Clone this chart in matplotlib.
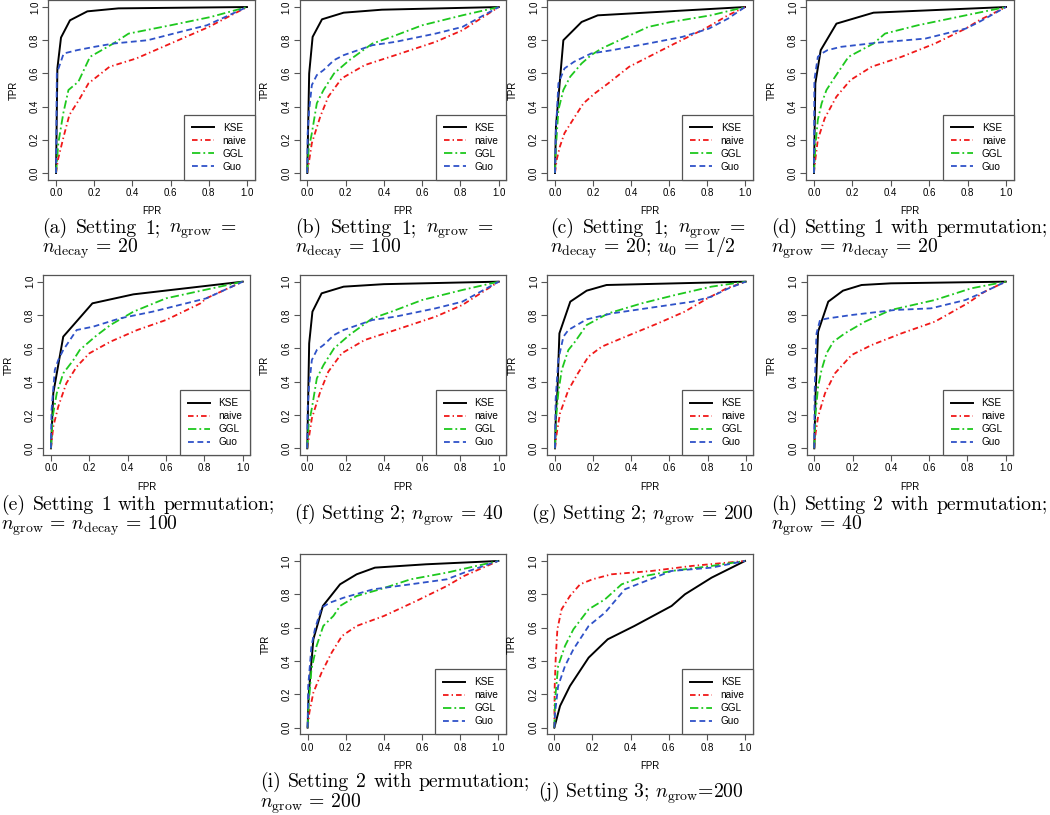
import numpy as np
import matplotlib
matplotlib.use("Agg")
import matplotlib.pyplot as plt

plt.rcParams['mathtext.fontset'] = 'cm'
plt.rcParams['lines.scale_dashes'] = False

# ROC curves: (FPR list, TPR list) per method and panel
a_kse = ([0, 0.007, 0.026, 0.073, 0.164, 0.327, 1], [0, 0.63, 0.816, 0.92, 0.974, 0.992, 1])
a_naive = ([0, 0.01, 0.04, 0.07, 0.12, 0.17, 0.28, 0.42, 0.6, 0.8, 1], [0, 0.08, 0.22, 0.35, 0.44, 0.54, 0.64, 0.69, 0.78, 0.88, 1])
a_ggl = ([0, 0.012, 0.038, 0.065, 0.117, 0.178, 0.3, 0.38, 0.6, 0.81, 1], [0, 0.18, 0.36, 0.5, 0.55, 0.7, 0.78, 0.84, 0.89, 0.94, 1])
a_guo = ([0, 0.004, 0.04, 0.11, 0.2, 0.3, 0.48, 0.65, 0.79, 1], [0, 0.6, 0.72, 0.74, 0.76, 0.78, 0.8, 0.85, 0.89, 1])

b_kse = ([0, 0.01, 0.028, 0.077, 0.19, 0.39, 1], [0, 0.6, 0.82, 0.926, 0.966, 0.984, 1])
b_naive = ([0, 0.024, 0.068, 0.11, 0.18, 0.3, 0.46, 0.67, 0.81, 1], [0, 0.18, 0.34, 0.46, 0.57, 0.65, 0.71, 0.79, 0.86, 1])
b_ggl = ([0, 0.007, 0.024, 0.05, 0.085, 0.14, 0.22, 0.34, 0.44, 0.6, 0.81, 1], [0, 0.14, 0.24, 0.42, 0.5, 0.6, 0.68, 0.78, 0.82, 0.89, 0.95, 1])
b_guo = ([0, 0.002, 0.01, 0.024, 0.05, 0.085, 0.14, 0.19, 0.34, 0.46, 0.67, 0.81, 1], [0, 0.24, 0.38, 0.53, 0.59, 0.62, 0.68, 0.71, 0.77, 0.79, 0.84, 0.88, 1])

c_kse = ([0, 0.005, 0.044, 0.14, 0.225, 1], [0, 0.28, 0.8, 0.91, 0.95, 1])
c_naive = ([0, 0.009, 0.026, 0.05, 0.105, 0.15, 0.21, 0.28, 0.39, 0.51, 0.63, 0.79, 0.91, 1], [0, 0.08, 0.16, 0.24, 0.34, 0.42, 0.48, 0.54, 0.64, 0.71, 0.78, 0.87, 0.95, 1])
c_ggl = ([0, 0.004, 0.018, 0.044, 0.08, 0.14, 0.19, 0.245, 0.32, 0.49, 0.61, 0.82, 1], [0, 0.14, 0.38, 0.5, 0.58, 0.66, 0.71, 0.75, 0.79, 0.88, 0.91, 0.95, 1])
c_guo = ([0, 0.004, 0.018, 0.05, 0.1, 0.19, 0.3, 0.49, 0.67, 0.81, 0.91, 1], [0, 0.24, 0.54, 0.63, 0.67, 0.72, 0.74, 0.78, 0.82, 0.87, 0.93, 1])

d_kse = ([0, 0.007, 0.035, 0.117, 0.31, 1], [0, 0.54, 0.74, 0.9, 0.966, 1])
d_naive = ([0, 0.007, 0.02, 0.056, 0.117, 0.19, 0.3, 0.456, 0.63, 0.79, 0.86, 1], [0, 0.08, 0.2, 0.33, 0.46, 0.56, 0.64, 0.7, 0.78, 0.87, 0.92, 1])
d_ggl = ([0, 0.007, 0.02, 0.04, 0.065, 0.11, 0.18, 0.31, 0.37, 0.54, 0.79, 1], [0, 0.16, 0.32, 0.42, 0.5, 0.58, 0.7, 0.78, 0.84, 0.89, 0.95, 1])
d_guo = ([0, 0.002, 0.02, 0.04, 0.07, 0.14, 0.33, 0.58, 0.79, 0.86, 1], [0, 0.56, 0.7, 0.72, 0.74, 0.76, 0.785, 0.81, 0.87, 0.91, 1])

e_kse = ([0, 0.012, 0.064, 0.216, 0.43, 1], [0, 0.33, 0.67, 0.87, 0.924, 1])
e_naive = ([0, 0.012, 0.038, 0.08, 0.134, 0.2, 0.31, 0.45, 0.6, 0.78, 0.81, 1], [0, 0.13, 0.25, 0.39, 0.49, 0.57, 0.64, 0.71, 0.77, 0.87, 0.9, 1])
e_ggl = ([0, 0.009, 0.03, 0.064, 0.117, 0.15, 0.23, 0.31, 0.43, 0.6, 0.8, 1], [0, 0.19, 0.33, 0.45, 0.53, 0.59, 0.67, 0.74, 0.82, 0.9, 0.95, 1])
e_guo = ([0, 0.003, 0.02, 0.038, 0.064, 0.134, 0.22, 0.36, 0.53, 0.67, 0.81, 1], [0, 0.23, 0.47, 0.53, 0.59, 0.71, 0.73, 0.78, 0.82, 0.86, 0.9, 1])

f_kse = ([0, 0.01, 0.027, 0.075, 0.19, 0.4, 1], [0, 0.63, 0.82, 0.93, 0.97, 0.985, 1])
f_naive = ([0, 0.024, 0.068, 0.11, 0.18, 0.3, 0.46, 0.67, 0.81, 1], [0, 0.18, 0.34, 0.46, 0.57, 0.65, 0.71, 0.79, 0.86, 1])
f_ggl = ([0, 0.007, 0.024, 0.05, 0.085, 0.14, 0.22, 0.34, 0.44, 0.6, 0.81, 1], [0, 0.14, 0.24, 0.42, 0.5, 0.6, 0.68, 0.78, 0.82, 0.89, 0.95, 1])
f_guo = ([0, 0.002, 0.01, 0.024, 0.05, 0.085, 0.14, 0.19, 0.34, 0.46, 0.67, 0.81, 1], [0, 0.24, 0.38, 0.53, 0.59, 0.62, 0.68, 0.71, 0.77, 0.79, 0.84, 0.88, 1])

g_kse = ([0, 0.005, 0.012, 0.023, 0.08, 0.166, 0.27, 1], [0, 0.23, 0.33, 0.69, 0.88, 0.946, 0.98, 1])
g_naive = ([0, 0.009, 0.026, 0.07, 0.12, 0.175, 0.245, 0.37, 0.54, 0.68, 0.8, 0.9, 1], [0, 0.09, 0.21, 0.35, 0.45, 0.55, 0.61, 0.67, 0.75, 0.82, 0.9, 0.96, 1])
g_ggl = ([0, 0.005, 0.017, 0.035, 0.07, 0.105, 0.166, 0.28, 0.455, 0.63, 0.82, 1], [0, 0.17, 0.33, 0.47, 0.59, 0.64, 0.74, 0.81, 0.87, 0.92, 0.97, 1])
g_guo = ([0, 0.003, 0.017, 0.044, 0.07, 0.166, 0.3, 0.54, 0.72, 0.82, 0.91, 1], [0, 0.29, 0.53, 0.67, 0.71, 0.774, 0.81, 0.85, 0.88, 0.91, 0.96, 1])

h_kse = ([0, 0.007, 0.02, 0.073, 0.15, 0.247, 0.4, 1], [0, 0.33, 0.7, 0.88, 0.946, 0.98, 0.99, 1])
h_naive = ([0, 0.007, 0.02, 0.056, 0.108, 0.195, 0.3, 0.456, 0.63, 0.8, 0.89, 1], [0, 0.09, 0.19, 0.33, 0.45, 0.56, 0.62, 0.69, 0.76, 0.87, 0.94, 1])
h_ggl = ([0, 0.007, 0.02, 0.038, 0.064, 0.1, 0.16, 0.265, 0.4, 0.63, 0.82, 1], [0, 0.21, 0.37, 0.47, 0.57, 0.64, 0.69, 0.76, 0.83, 0.89, 0.96, 1])
h_guo = ([0, 0.002, 0.007, 0.012, 0.03, 0.073, 0.195, 0.42, 0.61, 0.79, 0.89, 1], [0, 0.33, 0.55, 0.69, 0.77, 0.78, 0.8, 0.83, 0.84, 0.89, 0.94, 1])

i_kse = ([0, 0.005, 0.03, 0.08, 0.17, 0.257, 0.353, 0.62, 1], [0, 0.19, 0.53, 0.73, 0.86, 0.92, 0.96, 0.98, 1])
i_naive = ([0, 0.009, 0.03, 0.073, 0.126, 0.18, 0.257, 0.4, 0.57, 0.73, 0.82, 1], [0, 0.09, 0.21, 0.33, 0.45, 0.55, 0.61, 0.67, 0.76, 0.85, 0.91, 1])
i_ggl = ([0, 0.005, 0.02, 0.047, 0.082, 0.135, 0.17, 0.257, 0.38, 0.54, 0.73, 1], [0, 0.13, 0.35, 0.49, 0.61, 0.67, 0.73, 0.79, 0.83, 0.89, 0.93, 1])
i_guo = ([0, 0.003, 0.02, 0.038, 0.073, 0.117, 0.19, 0.344, 0.54, 0.73, 0.82, 1], [0, 0.25, 0.49, 0.59, 0.72, 0.75, 0.78, 0.83, 0.86, 0.89, 0.93, 1])

j_kse = ([0, 0.03, 0.082, 0.18, 0.28, 0.42, 0.615, 0.685, 0.825, 1], [0, 0.13, 0.25, 0.42, 0.53, 0.61, 0.73, 0.8, 0.9, 1])
j_naive = ([0, 0.002, 0.007, 0.016, 0.038, 0.082, 0.135, 0.2, 0.3, 0.51, 0.72, 1], [0, 0.25, 0.41, 0.59, 0.71, 0.79, 0.86, 0.89, 0.92, 0.94, 0.97, 1])
j_ggl = ([0, 0.004, 0.02, 0.056, 0.1, 0.18, 0.266, 0.353, 0.476, 0.615, 0.825, 1], [0, 0.17, 0.37, 0.49, 0.59, 0.71, 0.77, 0.86, 0.91, 0.94, 0.97, 1])
j_guo = ([0, 0.004, 0.02, 0.056, 0.1, 0.18, 0.266, 0.37, 0.458, 0.615, 0.825, 1], [0, 0.09, 0.25, 0.37, 0.47, 0.61, 0.69, 0.83, 0.87, 0.94, 0.96, 1])

methods = ['KSE', 'naive', 'GGL', 'Guo']
ticks = [0.0, 0.2, 0.4, 0.6, 0.8, 1.0]

# caption lines per panel
captions = {
    'a': ["(a) Setting 1; $n_{\\mathrm{grow}}$ =", "$n_{\\mathrm{decay}}$ = 20"],
    'b': ["(b) Setting 1; $n_{\\mathrm{grow}}$ =", "$n_{\\mathrm{decay}}$ = 100"],
    'c': ["(c) Setting 1; $n_{\\mathrm{grow}}$ =", "$n_{\\mathrm{decay}}$ = 20; $u_0$ = 1/2"],
    'd': ["(d) Setting 1 with permutation;", "$n_{\\mathrm{grow}}$ = $n_{\\mathrm{decay}}$ = 20"],
    'e': ["(e) Setting 1 with permutation;", "$n_{\\mathrm{grow}}$ = $n_{\\mathrm{decay}}$ = 100"],
    'f': ["(f) Setting 2; $n_{\\mathrm{grow}}$ = 40"],
    'g': ["(g) Setting 2; $n_{\\mathrm{grow}}$ = 200"],
    'h': ["(h) Setting 2 with permutation;", "$n_{\\mathrm{grow}}$ = 40"],
    'i': ["(i) Setting 2 with permutation;", "$n_{\\mathrm{grow}}$ = 200"],
    'j': ["(j) Setting 3; $n_{\\mathrm{grow}}$=200"],
}

W, H = 1050, 815
fig = plt.figure(figsize=(W / 100, H / 100), dpi=100)
renderer = fig.canvas.get_renderer()

# axes boxes in pixels: left, top, right, bottom ; caption left, right, baselines
boxes = {
    'a': (48.4, 0.4, 254.6, 179.6, 42, 236, [233, 253]),
    'b': (299.6, 0.4, 506.4, 179.6, 295, 493, [233, 253]),
    'c': (547.4, 0.4, 752.6, 179.6, 550, 745, [233, 253]),
    'd': (806.3, 0.4, 1013.7, 179.6, 771, 1048, [233, 253]),
    'e': (43.3, 275, 250.4, 455, 1, 275, [510, 530]),
    'f': (299.6, 275, 506.4, 455, 294, None, [520]),
    'g': (547.4, 275, 753.3, 455, 531, None, [520]),
    'h': (806.6, 275, 1013.4, 455, 771, 1048, [510, 530]),
    'i': (300, 554.3, 506, 734.3, 260, 530, [787, 808]),
    'j': (546.7, 554.3, 752.6, 734.3, 538, None, [798]),
}

curves = {
    'a': [a_kse, a_naive, a_ggl, a_guo], 'b': [b_kse, b_naive, b_ggl, b_guo],
    'c': [c_kse, c_naive, c_ggl, c_guo], 'd': [d_kse, d_naive, d_ggl, d_guo],
    'e': [e_kse, e_naive, e_ggl, e_guo], 'f': [f_kse, f_naive, f_ggl, f_guo],
    'g': [g_kse, g_naive, g_ggl, g_guo], 'h': [h_kse, h_naive, h_ggl, h_guo],
    'i': [i_kse, i_naive, i_ggl, i_guo], 'j': [j_kse, j_naive, j_ggl, j_guo],
}

colors = ['black', '#f01818', '#1ec81e', '#2f52c8']
dashes = [None, (4, 2.2, 1, 2.2), (6, 2.2, 1.3, 2.2), (4.2, 2.6)]
widths = [1.4, 1.3, 1.3, 1.3]
tick_font = dict(family='Liberation Sans', size=7)
frame_col = '#555555'
cap_size = 14.2


def justified(words, x0, x1, y):
    # place words so the line fills x0..x1, like a justified LaTeX line
    items = [fig.text(0, 1 - y / H, w, family='cmr10', fontsize=cap_size,
                      ha='left', va='baseline') for w in words]
    ws = [it.get_window_extent(renderer).width for it in items]
    gap = (x1 - x0 - sum(ws)) / (len(words) - 1)
    gap = max(gap, 4.5)
    x = x0
    for it, w in zip(items, ws):
        it.set_x(x / W)
        x += w + gap


for key, (l, t, r, b, cx, cr, cys) in boxes.items():
    ax = fig.add_axes([l / W, 1 - b / H, (r - l) / W, (b - t) / H])
    for k, (xs, ys) in enumerate(curves[key]):
        line, = ax.plot(xs, ys, color=colors[k], lw=widths[k], label=methods[k])
        if dashes[k] is not None:
            line.set_dashes(dashes[k])
    ax.set_xlim(-0.04, 1.04)
    ax.set_ylim(-0.04, 1.04)
    ax.set_xticks(ticks)
    ax.set_yticks(ticks)
    ax.set_xticklabels(['%.1f' % v for v in ticks], fontdict=tick_font)
    ax.set_yticklabels(['%.1f' % v for v in ticks], fontdict=tick_font, rotation=90, va='center')
    ax.tick_params(direction='out', length=4, width=0.8, color=frame_col, pad=2)
    for s in ax.spines.values():
        s.set_color(frame_col)
        s.set_linewidth(0.9)
    ax.set_xlabel('FPR', fontdict=tick_font, labelpad=6)
    ax.set_ylabel('TPR', fontdict=tick_font, labelpad=8)
    leg = ax.legend(loc='lower right', borderaxespad=0, fancybox=False, framealpha=1,
                    edgecolor=frame_col, prop=dict(family='Liberation Sans', size=7.2),
                    handlelength=2.2, handletextpad=0.9, labelspacing=0.3, borderpad=0.8)
    leg.get_frame().set_linewidth(0.9)
    lines = captions[key]
    for ln, cy in enumerate(cys):
        if ln == 0 and len(lines) > 1:
            justified(lines[0].split(' '), cx, cr, cy)
        else:
            fig.text(cx / W, 1 - cy / H, lines[ln], family='cmr10', fontsize=cap_size,
                     ha='left', va='baseline')

fig.savefig('out.png', dpi=100)
